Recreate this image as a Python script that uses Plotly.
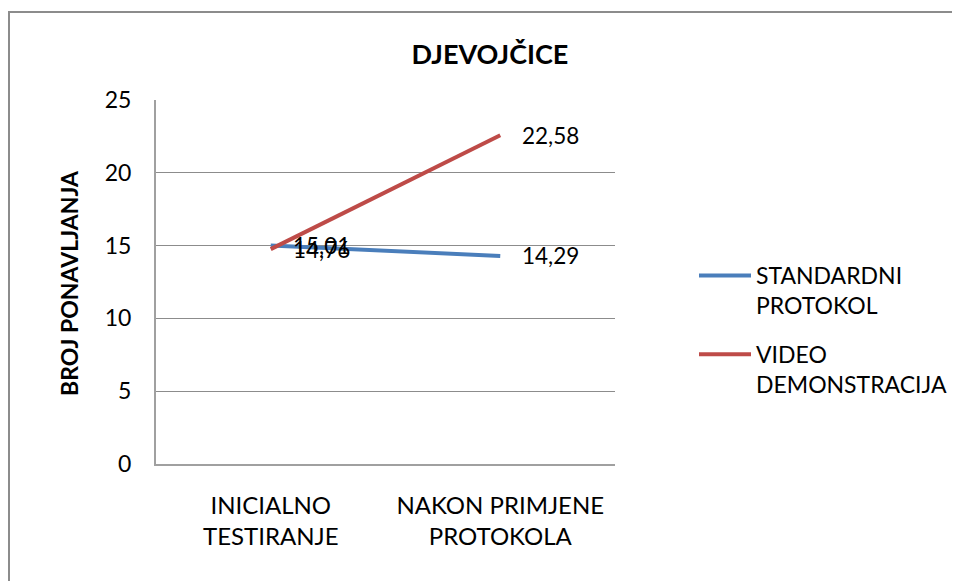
import plotly.graph_objects as go

categories = ["INICIALNO<br>TESTIRANJE", "NAKON PRIMJENE<br>PROTOKOLA"]
series_names = ["STANDARDNI<br>PROTOKOL", "VIDEO<br>DEMONSTRACIJA"]
standardni = [15.01, 14.29]
video = [14.76, 22.58]
colors = ["#4A7EBB", "#BE4B48"]
y_ticks = [0, 5, 10, 15, 20, 25]

FONT = "Lato"
OFF = 8  # page body margin offset
fig = go.Figure()
for name, vals, col in zip(series_names, [standardni, video], colors):
    fig.add_trace(go.Scatter(
        x=categories, y=vals, mode="lines", name=name,
        line=dict(color=col, width=4), legendgroup=name,
    ))
    for c, v in zip(categories, vals):
        fig.add_annotation(x=c, y=v, xref="x", yref="y",
                           text=f"{v:.2f}".replace(".", ","),
                           showarrow=False, xanchor="left", yanchor="middle",
                           xshift=20, font=dict(family=FONT, size=22.5, color="#000"))

L, R, T, B = 156 - OFF, 615 - OFF, 100 - OFF, 464 - OFF
W, H = 960, 581
def px(x):
    return (x - OFF - L) / (R - L)
def py(y):
    return (B - (y - OFF)) / (B - T)

fig.add_shape(type="rect", xref="paper", yref="paper",
              x0=px(OFF + 1), x1=px(1000), y0=py(640), y1=py(12),
              line=dict(color="#8C8C8C", width=2), layer="below")

fig.add_annotation(text="<b>BROJ PONAVLJANJA</b>", xref="paper", yref="paper",
                   x=px(69), y=py(283), textangle=-90, showarrow=False,
                   xanchor="center", yanchor="middle",
                   font=dict(family=FONT, size=23, color="#000"))

fig.update_layout(
    width=W, height=H,
    margin=dict(l=L, r=W - R, t=T, b=H - B),
    paper_bgcolor="white", plot_bgcolor="white",
    font=dict(family=FONT, size=24, color="#000"),
    title=dict(text="<b>DJEVOJČICE</b>", x=px(490), xref="paper", xanchor="center",
               y=1 - (55 - OFF) / H, yref="container", yanchor="middle",
               font=dict(family=FONT, size=27, color="#000")),
    xaxis=dict(type="category", range=[-0.5, 1.5], showgrid=False,
               showline=True, linecolor="#A0A0A0", linewidth=2,
               ticks="", ticklabelstandoff=19,
               tickfont=dict(family=FONT, size=24, color="#000")),
    yaxis=dict(range=[0, 25], tickvals=y_ticks, showgrid=True,
               gridcolor="#8C8C8C", gridwidth=1, zeroline=False,
               showline=True, linecolor="#A0A0A0", linewidth=2,
               ticks="", ticklabelstandoff=18,
               tickfont=dict(family=FONT, size=23, color="#000")),
    legend=dict(x=px(694), y=py(254), xanchor="left", yanchor="top",
                valign="top", tracegroupgap=16, itemwidth=52,
                font=dict(family=FONT, size=23, color="#000"),
                bgcolor="rgba(0,0,0,0)"),
    showlegend=True,
)

fig.write_html("out.html")
